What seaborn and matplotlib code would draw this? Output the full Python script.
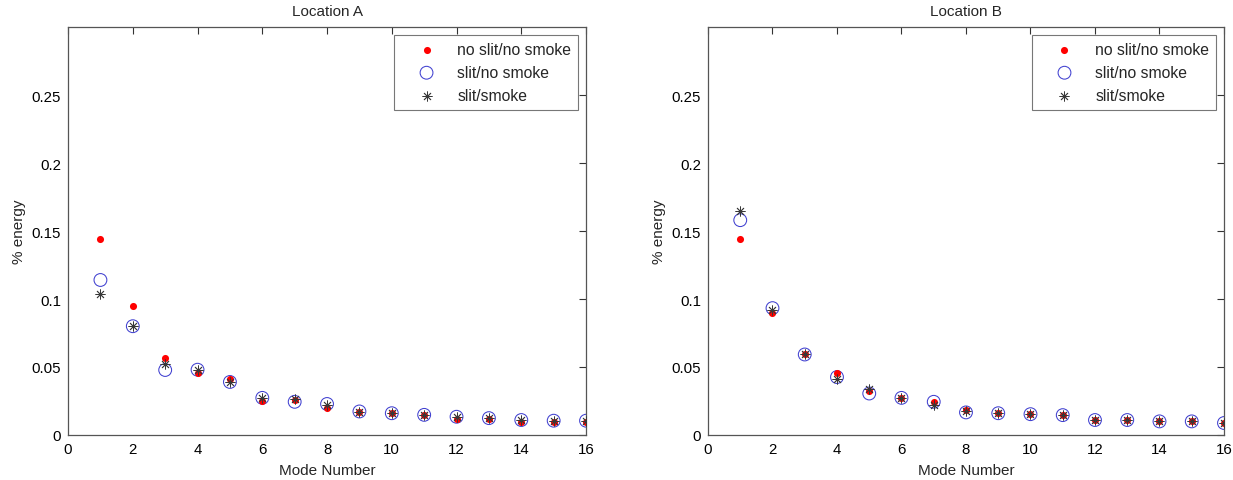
import numpy as np
import pandas as pd
import matplotlib
matplotlib.use("Agg")
import matplotlib.pyplot as plt
import seaborn as sns

modes = list(range(1, 17))

# Location A
a_noslit_nosmoke = [0.144, 0.0945, 0.0563, 0.0458, 0.0414, 0.0249, 0.0254, 0.0196,
                    0.0172, 0.0160, 0.0148, 0.0117, 0.0117, 0.0097, 0.0093, 0.0095]
a_slit_nosmoke = [0.114, 0.080, 0.0478, 0.048, 0.039, 0.0273, 0.0244, 0.0228,
                  0.0173, 0.0160, 0.0148, 0.0134, 0.0124, 0.0110, 0.0105, 0.0105]
a_slit_smoke = [0.104, 0.080, 0.052, 0.048, 0.039, 0.027, 0.0263, 0.0219,
                0.0168, 0.0160, 0.0148, 0.0130, 0.0122, 0.0108, 0.0102, 0.0102]

# Location B
b_noslit_nosmoke = [0.144, 0.090, 0.0592, 0.0458, 0.032, 0.0273, 0.024, 0.0183,
                    0.0160, 0.0153, 0.0146, 0.0110, 0.0110, 0.0100, 0.0100, 0.0088]
b_slit_nosmoke = [0.158, 0.0933, 0.0592, 0.0426, 0.0305, 0.0273, 0.0244, 0.0166,
                  0.0160, 0.0153, 0.0146, 0.0110, 0.0110, 0.0100, 0.0100, 0.0088]
b_slit_smoke = [0.165, 0.092, 0.0592, 0.041, 0.0336, 0.0273, 0.022, 0.0175,
                0.0160, 0.0153, 0.0146, 0.0110, 0.0110, 0.0100, 0.0100, 0.0088]

labels = ["no slit/no smoke", "slit/no smoke", "slit/smoke"]
titles = ["Location A", "Location B"]
xticks = [0, 2, 4, 6, 8, 10, 12, 14, 16]
yticks = [0, 0.05, 0.1, 0.15, 0.2, 0.25]
ytick_labels = ["0", "0.05", "0.1", "0.15", "0.2", "0.25"]

sns.set_style("white")
plt.rcParams["font.family"] = ["Liberation Sans", "DejaVu Sans"]

fig = plt.figure(figsize=(12.33, 4.81), dpi=100)
ax1 = fig.add_axes([0.0552, 0.0936, 0.4201, 0.848])
ax2 = fig.add_axes([0.5742, 0.0936, 0.4185, 0.848])

datasets = [(a_noslit_nosmoke, a_slit_nosmoke, a_slit_smoke),
            (b_noslit_nosmoke, b_slit_nosmoke, b_slit_smoke)]

for ax, (s1, s2, s3), title in zip([ax1, ax2], datasets, titles):
    df = pd.DataFrame({"mode": modes, "s1": s1, "s2": s2, "s3": s3})
    sns.scatterplot(data=df, x="mode", y="s1", ax=ax, marker="o", s=26,
                    color="red", edgecolor="red", linewidth=0, zorder=3,
                    label=labels[0])
    sns.scatterplot(data=df, x="mode", y="s2", ax=ax, marker="o", s=85,
                    facecolor="none", edgecolor="#4040d0", linewidth=0.75,
                    zorder=2, label=labels[1])
    sns.scatterplot(data=df, x="mode", y="s3", ax=ax, marker=(8, 2, 0), s=45,
                    color="#383838", linewidth=0.6, zorder=4, label=labels[2])
    ax.set_xlim(0, 16)
    ax.set_ylim(0, 0.3)
    ax.set_xticks(xticks)
    ax.set_yticks(yticks)
    ax.set_yticklabels(ytick_labels)
    ax.set_xlabel("Mode Number", fontsize=11, labelpad=5)
    ax.set_ylabel("% energy", fontsize=11, labelpad=4)
    ax.set_title(title, fontsize=11, pad=9)
    ax.tick_params(direction="in", length=5, width=0.8, colors="#333333",
                   labelsize=10.8, top=True, right=True, labelcolor="black",
                   pad=5)
    for sp in ax.spines.values():
        sp.set_color("#555555")
        sp.set_linewidth(0.9)
    leg = ax.legend(loc="upper right", frameon=True, fancybox=False,
                    fontsize=11.3, borderaxespad=0.5, handletextpad=0.35,
                    labelspacing=0.5, borderpad=0.45, handlelength=3.2)
    leg.get_frame().set_edgecolor("#555555")
    leg.get_frame().set_linewidth(0.8)

fig.savefig("out.png", dpi=100, facecolor="white")
